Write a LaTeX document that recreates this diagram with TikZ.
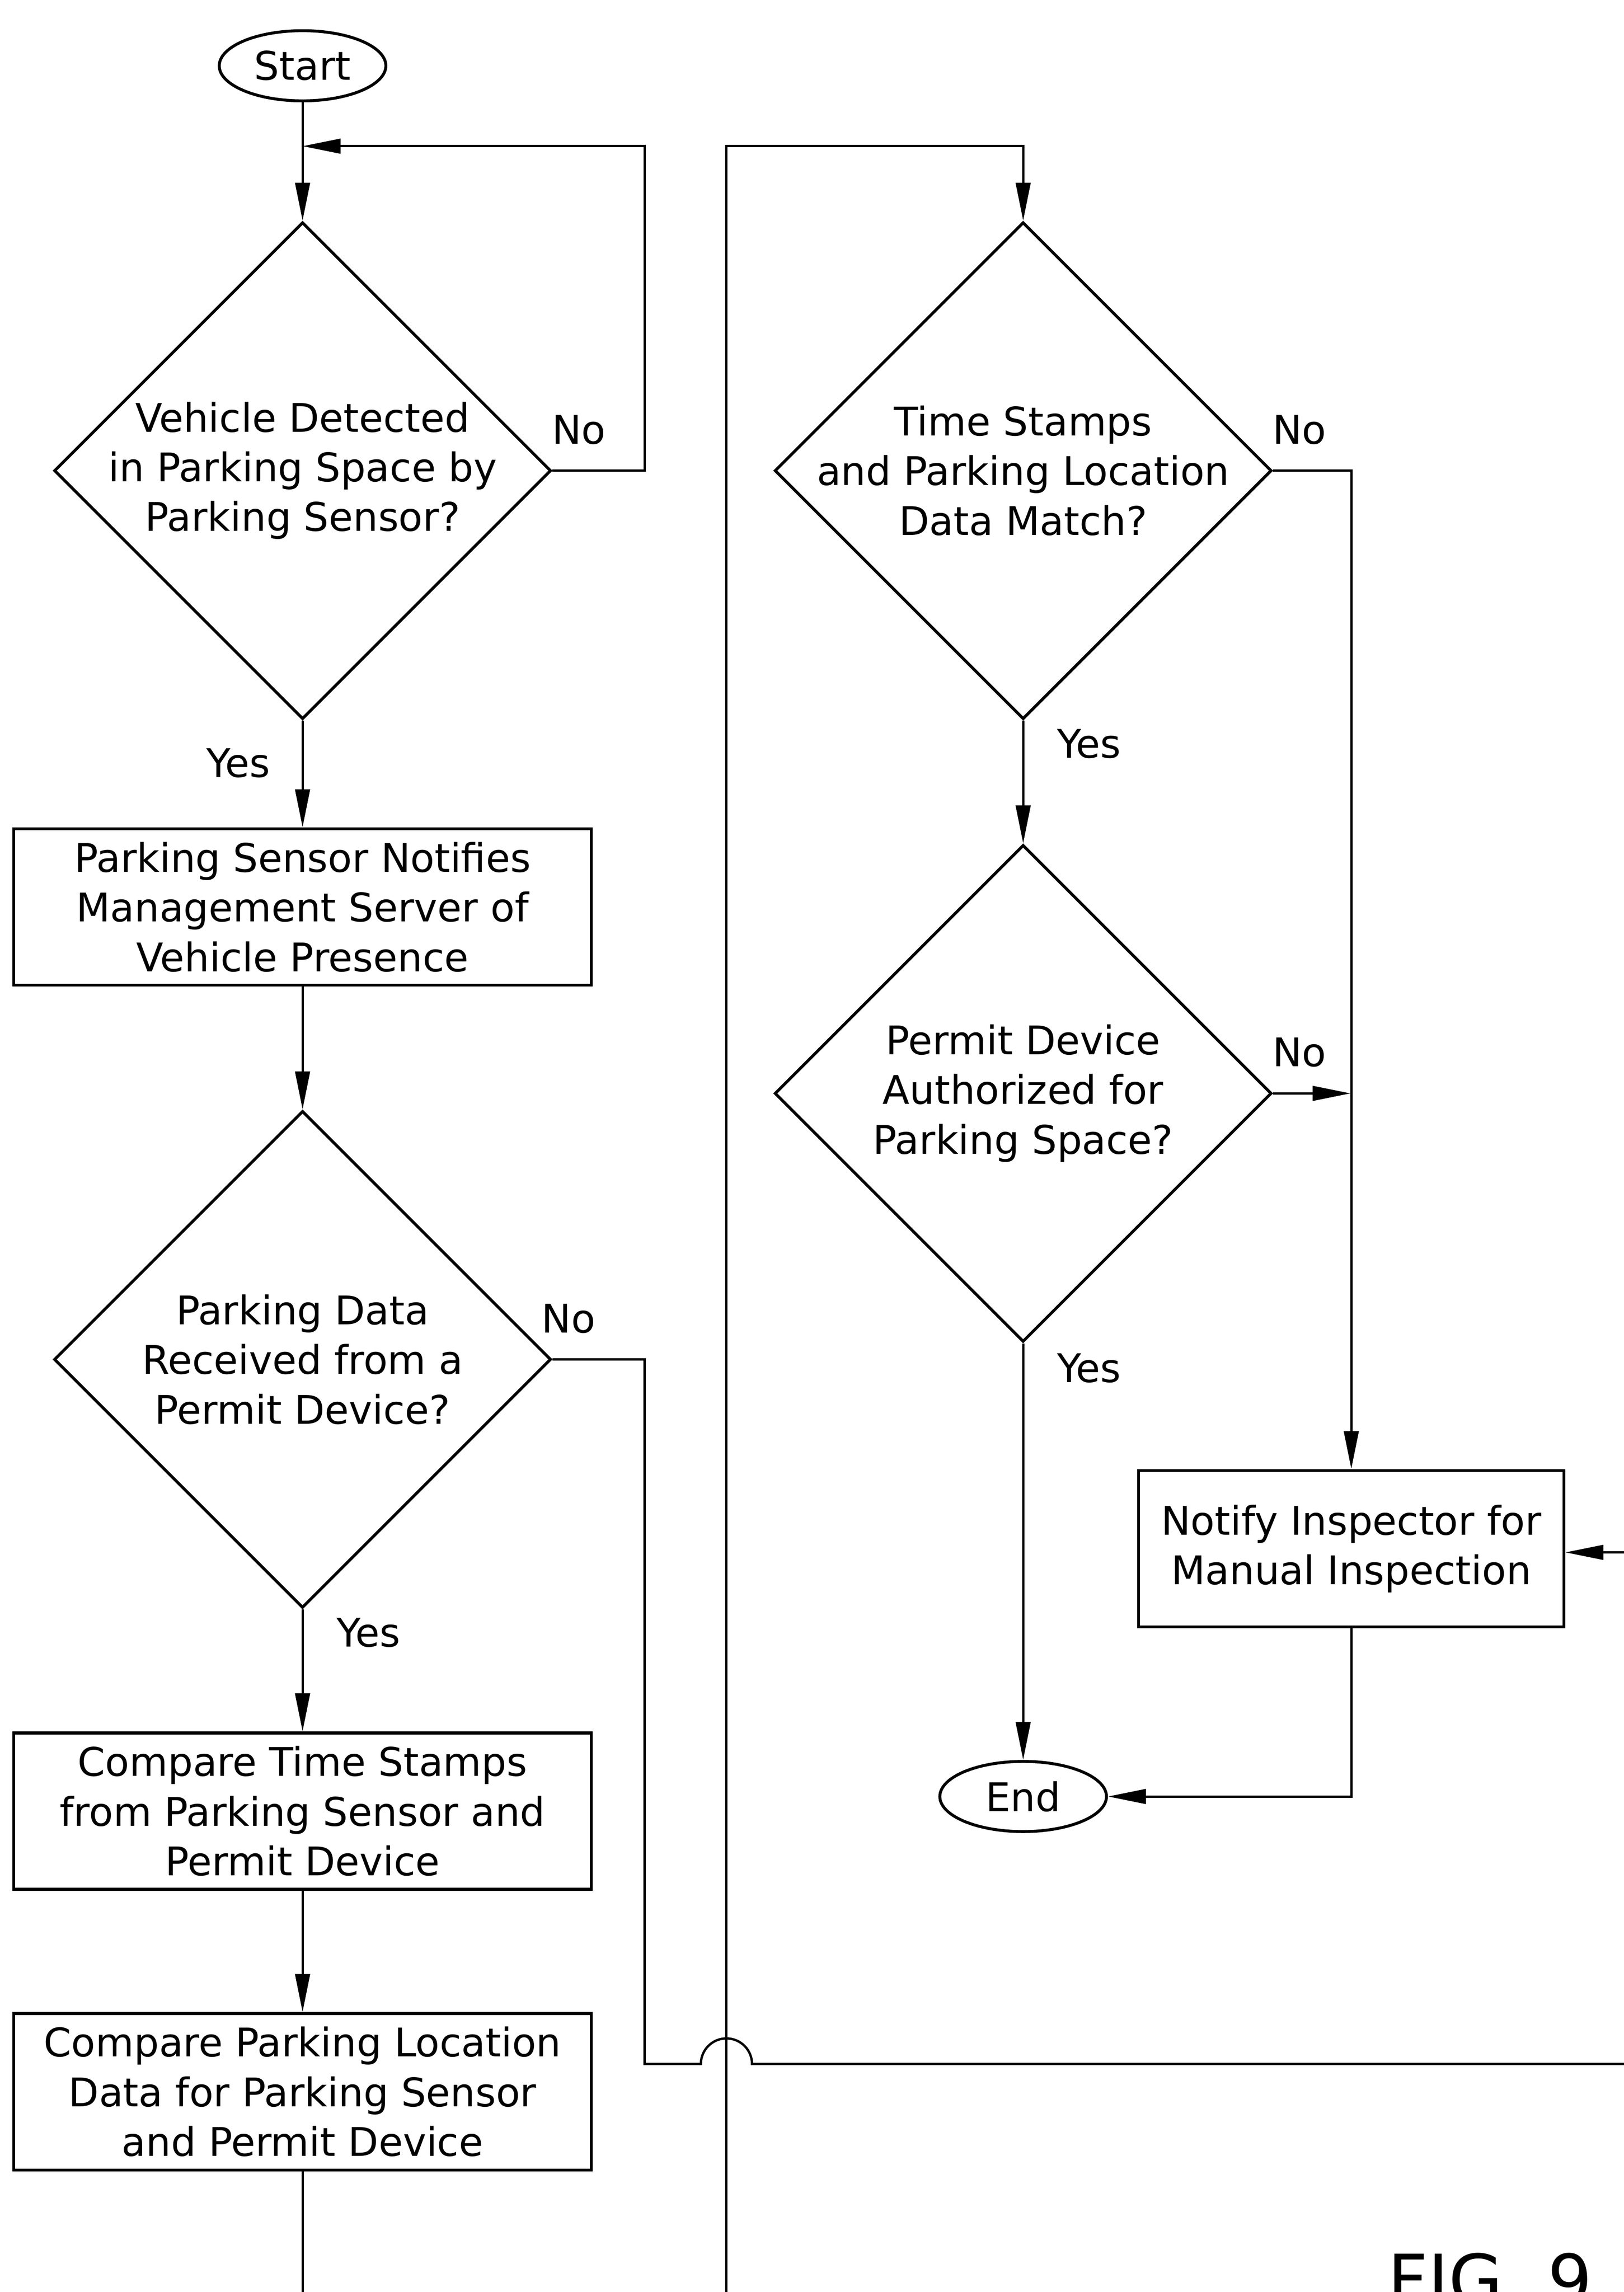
\documentclass[tikz,border=0pt]{standalone}
\usepackage{fontspec}
\setmainfont{DejaVu Sans}
\usetikzlibrary{shapes.geometric,arrows.meta}
\begin{document}
\begin{tikzpicture}[x=0.5pt,y=-0.5pt,
  every node/.style={font=\fontsize{13.5}{17}\selectfont},
  term/.style={draw,ellipse,line width=1pt,minimum width=57pt,minimum height=24pt,inner sep=0pt},
  dia/.style={draw,diamond,aspect=1,line width=1pt,minimum size=170pt,inner sep=0pt},
  box/.style={draw,rectangle,line width=1pt,minimum width=197.5pt,minimum height=53.5pt,inner sep=2pt,align=center},
  lbl/.style={inner sep=0pt},
  conn/.style={line width=0.8pt},
  arr/.style={conn,-{Triangle[length=13pt,width=5pt]}}]
\useasboundingbox (0,0) rectangle (1111,1568);
\clip (0,0) rectangle (1111,1568);
\fill[white] (0,0) rectangle (1111,1568);

% left column
\node[term] (start) at (207,45) {Start};
\node[dia,label={[align=center,inner sep=0pt]center:Vehicle Detected\\in Parking Space by\\Parking Sensor?}] (d1) at (207,322) {};
\node[box] (b1) at (207,620.5) {Parking Sensor Notifies\\Management Server of\\Vehicle Presence};
\node[dia,label={[align=center,inner sep=0pt]center:Parking Data\\Received from a\\Permit Device?}] (d2) at (207,930) {};
\node[box] (b2) at (207,1239) {Compare Time Stamps\\from Parking Sensor and\\Permit Device};
\node[box] (b3) at (207,1431) {Compare Parking Location\\Data for Parking Sensor\\and Permit Device};

% right column
\node[dia,label={[align=center,inner sep=0pt]center:Time Stamps\\and Parking Location\\Data Match?}] (d3) at (700,322) {};
\node[dia,label={[align=center,inner sep=0pt]center:Permit Device\\Authorized for\\Parking Space?}] (d4) at (700,748) {};
\node[term] (end) at (700,1229) {End};
\node[box,minimum width=145.5pt] (n) at (924.5,1059.5) {Notify Inspector for\\Manual Inspection};

% labels
\node[lbl] (no1) at (396,294) {No};
\node[lbl] (yes1) at (163,522) {Yes};
\node[lbl] (no2) at (389,902) {No};
\node[lbl] (yes2) at (252,1117) {Yes};
\node[lbl] (no3) at (889,294) {No};
\node[lbl] (yes3) at (745,509) {Yes};
\node[lbl] (no4) at (889,720) {No};
\node[lbl] (yes4) at (745,936) {Yes};
\node[anchor=base west,inner sep=0pt,font=\fontsize{24}{28}\selectfont] (fig) at (949,1577) {FIG. 9};

% coordinates
\coordinate (fb) at (207,100);
\coordinate (c1) at (441,100);
\coordinate (c2) at (441,1412);
\coordinate (jl) at (479.5,1412);
\coordinate (e1) at (1130,1412);
\coordinate (e2) at (207,1590);
\coordinate (e3) at (497,1590);
\coordinate (c3) at (700,100);
\coordinate (j1) at (924,748);
\coordinate (e4) at (1130,1062);
\coordinate (ne) at (n.east |- e4);

% connectors
\draw[arr] (start.south) -- (d1.north);
\draw[arr] (d1.east) -| (c1) -- (fb);
\draw[arr] (d1.south) -- (b1.north);
\draw[arr] (b1.south) -- (d2.north);
\draw[arr] (d2.south) -- (b2.north);
\draw[arr] (b2.south) -- (b3.north);
\draw[conn] (b3.south) -- (e2);
\draw[conn] (d2.east) -| (c2) -- (jl) arc[start angle=180,end angle=0,radius=8.75pt] -- (e1);
\draw[arr] (e3) |- (c3) -- (d3.north);
\draw[arr] (d3.east) -| (n.north);
\draw[arr] (d3.south) -- (d4.north);
\draw[arr] (d4.east) -- (j1);
\draw[arr] (d4.south) -- (end.north);
\draw[arr] (n.south) |- (end.east);
\draw[arr] (e4) -- (ne);
\end{tikzpicture}
\end{document}
